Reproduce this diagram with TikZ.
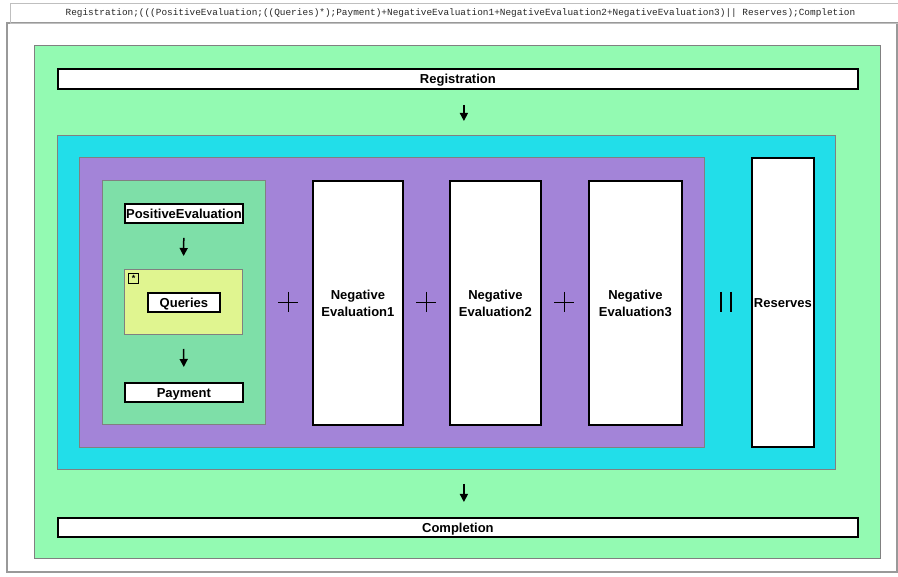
\documentclass[tikz,border=0pt]{standalone}
\usepackage{fontspec}
\setmainfont{Liberation Sans}
\setmonofont{Liberation Mono}
\usetikzlibrary{arrows.meta, positioning}

\definecolor{outergreen}{RGB}{147,250,178}
\definecolor{parcyan}{RGB}{34,222,233}
\definecolor{choicepurple}{RGB}{163,132,216}
\definecolor{seqgreen}{RGB}{126,223,168}
\definecolor{loopyellow}{RGB}{224,245,144}

\tikzset{
  panel/.style={draw=gray, line width=1pt, anchor=north west, inner sep=0pt},
  act/.style={draw=black, line width=1.8pt, fill=white, anchor=north west, inner sep=0pt,
    font=\fontsize{13}{17}\selectfont\bfseries, align=center},
  oneline/.style={text height=9.5pt, text depth=0pt},
  flow/.style={-{Triangle[width=8pt,length=8pt]}, line width=1.5pt},
  sep/.style={line width=0.8pt},
}

\begin{document}
\begin{tikzpicture}[x=1pt, y=-1pt]
  \useasboundingbox (0,0) rectangle (898,577);
  % window frame and expression bar
  \draw[gray!80, line width=1.5pt] (7,23) rectangle (897,572);
  \node[panel, draw=gray!50, minimum width=900, minimum height=20,
    font=\ttfamily\fontsize{9.4}{10}\selectfont, text=black!85] (expr) at (10,3)
    {Registration;(((PositiveEvaluation;((Queries)*);Payment)+NegativeEvaluation1+NegativeEvaluation2+NegativeEvaluation3)|| Reserves);Completion};

  % nested blocks
  \node[panel, fill=outergreen, minimum width=846, minimum height=513] (process) at (34,45) {};
  \node[act, oneline, minimum width=800, minimum height=20] (reg) at (57,68) {Registration};
  \node[panel, fill=parcyan, minimum width=778, minimum height=334] (par) at (57,135) {};
  \node[panel, fill=choicepurple, minimum width=625, minimum height=290] (choice) at (79,157) {};
  \node[panel, fill=seqgreen, minimum width=163, minimum height=244] (seq) at (102,180) {};
  \node[act, oneline, minimum width=118, minimum height=19] (pos) at (124,203) {PositiveEvaluation};
  \node[panel, fill=loopyellow, minimum width=118, minimum height=65] (loop) at (124,269) {};
  \node[act, line width=1.3pt, fill=loopyellow, minimum width=10, minimum height=10,
    font=\fontsize{9}{9}\selectfont\bfseries] (star) at (128,273) {*};
  \node[act, oneline, minimum width=72, minimum height=19] (qry) at (147,292) {Queries};
  \node[act, oneline, minimum width=118, minimum height=19] (pay) at (124,382) {Payment};
  \node[act, minimum width=90, minimum height=244] (neg1) at (312,180) {Negative\\Evaluation1};
  \node[act, minimum width=91, minimum height=244] (neg2) at (449,180) {Negative\\Evaluation2};
  \node[act, minimum width=93, minimum height=244] (neg3) at (588,180) {Negative\\Evaluation3};
  \node[act, oneline, minimum width=62, minimum height=289] (res) at (751,157) {Reserves};
  \node[act, oneline, minimum width=800, minimum height=19] (comp) at (57,517) {Completion};

  % sequence arrows
  \draw[flow, shorten <=15, shorten >=14] ([xshift=6]reg.south) -- ([xshift=6]reg.south |- par.north);
  \draw[flow, shorten <=14, shorten >=15] ([xshift=6]reg.south |- par.south) -- ([xshift=6]comp.north);
  \draw[flow, shorten <=14, shorten >=13] (pos.south) -- (loop.north);
  \draw[flow, shorten <=14, shorten >=15] (loop.south) -- (pay.north);

  % operators
  \coordinate (plus1) at (288,302);
  \coordinate (plus2) at (426,302);
  \coordinate (plus3) at (564,302);
  \foreach \p in {plus1, plus2, plus3}
    \draw[sep] (\p) +(-10,0) -- +(10,0) (\p) +(0,-10) -- +(0,10);
  \coordinate (bar) at (726,302);
  \draw[line width=1.3pt] (bar) +(-5,-10) -- +(-5,10) (bar) +(5,-10) -- +(5,10);
\end{tikzpicture}
\end{document}
